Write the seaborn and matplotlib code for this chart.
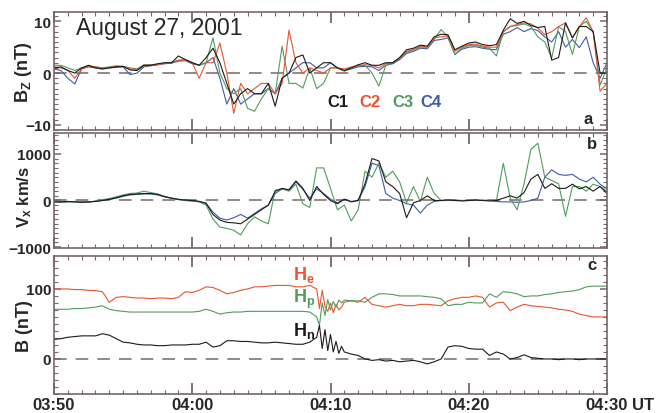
import numpy as np
import pandas as pd
import matplotlib
matplotlib.use('Agg')
import matplotlib.pyplot as plt
from matplotlib.ticker import MultipleLocator
import seaborn as sns

# ---------- Data (minutes after 03:50 UT) ----------
t_ab = np.arange(0, 40.01, 0.5)

bz_c1 = [1.0, 1.2, 0.5, 0.0, 1.0, 1.5, 1.0, 0.8, 1.0, 1.2, 1.3, 0.6, 0.5, 1.5, 1.5, 1.8, 2.0, 2.0, 3.3, 2.6,
         2.0, 1.5, 3.0, 4.8, 2.0, -2.0, -6.0, -4.0, -3.0, -4.0, -4.0, -2.0, -6.4, -1.0, 0.0, 3.0, 3.5, 0.0, 1.0, 2.0,
         2.0, 1.0, 0.5, 1.0, 1.6, 2.0, 1.5, 1.5, 2.0, 2.0, 3.0, 4.5, 4.8, 5.4, 5.2, 7.0, 7.5, 7.4, 4.5, 5.2,
         5.8, 6.0, 5.5, 5.3, 5.5, 8.3, 10.5, 9.6, 10.0, 9.2, 8.8, 9.0, 2.5, 3.0, 9.7, 6.8, 9.0, 9.0, 8.0, 0.0,
         0.0]
bz_c2 = [1.2, 1.0, 0.5, -1.0, 0.8, 1.3, 1.2, 1.0, 1.1, 1.3, 1.2, 0.8, 0.7, 1.3, 1.6, 1.6, 1.9, 2.1, 2.4, 2.5,
         2.0, -1.0, 2.0, 2.0, 5.8, 0.0, -7.8, -2.0, -4.0, -3.0, -2.0, -2.0, -4.0, -2.0, 8.3, 2.0, 0.0, 1.0, 0.5, 0.0,
         1.0, 1.0, 0.8, 1.2, 1.4, 1.6, 1.5, 1.0, 1.8, 2.0, 2.8, 4.2, 4.5, 5.2, 5.0, 6.8, 7.0, 7.2, 4.2, 5.0,
         5.5, 5.6, 5.2, 5.0, 5.0, 8.0, 9.0, 9.4, 9.7, 9.5, 8.7, 7.4, 8.0, 9.0, 9.7, 6.8, 9.0, 10.7, 8.0, -3.5,
         -2.0]
bz_c3 = [1.5, 1.5, 1.0, 0.5, 1.0, 1.4, 1.2, 1.0, 1.2, 1.4, 1.3, 1.0, 0.8, 1.6, 1.6, 1.7, 1.9, 2.0, 2.5, 2.6,
         2.0, 1.5, 2.0, 6.8, 0.0, -3.0, -4.0, -3.0, -6.8, -7.4, -5.0, -3.0, -4.0, 5.2, -2.0, -2.0, -2.9, 1.0, -3.0, -2.0,
         1.0, 1.0, 0.4, 1.0, 1.5, 1.5, 0.0, -2.5, 1.5, 2.0, 2.9, 4.0, 4.5, 5.0, 5.0, 6.5, 8.4, 7.0, 3.6, 4.8,
         5.3, 5.4, 5.0, 4.8, 3.3, 8.0, 9.0, 9.2, 9.5, 9.0, 7.0, 6.0, 2.9, 9.0, 8.0, 3.6, 9.0, 10.0, 8.0, -2.3,
         1.0]
bz_c4 = [0.8, 0.5, -1.0, -2.1, 0.8, 1.2, 1.0, 0.8, 1.0, 1.1, 1.2, -0.3, 0.0, 1.2, 1.4, 1.6, 1.8, 1.9, 2.3, 2.4,
         1.8, 1.5, 2.0, 3.0, -1.0, -6.0, -3.0, -6.0, -5.0, -4.0, -4.0, -3.0, -4.0, -1.0, 0.0, 1.0, 2.0, 2.0, 1.0, 1.0,
         2.0, 1.0, 0.4, 0.8, 1.2, 1.3, 1.2, 0.5, 1.5, 1.8, 2.6, 3.8, 4.2, 4.8, 4.7, 6.3, 6.5, 6.8, 3.6, 4.6,
         5.0, 5.1, 4.8, 4.6, 4.5, 7.5, 8.0, 8.8, 8.0, 8.6, 8.2, 7.0, 6.0, 8.0, 5.0, 6.5, 4.9, 7.0, 2.0, -1.0,
         2.0]

vx_c1 = [-30, -30, -20, -30, -40, -30, -20, 0, 26, 60, 100, 130, 140, 150, 150, 130, 80, 50, 25, 10,
         0, -20, -60, -300, -420, -470, -480, -500, -400, -300, -200, -100, 200, 260, 230, 420, 260, 0, 300, 130,
         0, -70, 30, -30, 0, 360, 900, 850, 400, 300, 150, -370, -50, 0, 100, 0, 0, 10, 0, -10,
         0, 10, 0, -10, 0, 50, 100, 50, 170, 460, 560, 260, 360, 260, 260, 350, 250, 300, 200, 300,
         150]
vx_c3 = [-20, -40, -30, -20, -30, -40, -10, 20, 40, 80, 120, 150, 160, 200, 170, 140, 90, 50, 20, 0,
         -10, -30, -100, -400, -570, -600, -640, -740, -500, -350, -440, -500, 220, 250, 200, 350, -70, -150, 700, 700,
         260, -200, -100, -440, -200, 630, 500, 800, 500, 630, 400, -50, 300, -20, 500, 150, 0, 0, 10, 0,
         0, 0, 10, 0, 0, 800, 50, -200, 360, 1100, 1230, 500, 430, 360, -340, 300, 300, 200, 350, 300,
         200]
vx_c4 = [-30, -30, -30, -30, -30, -30, -20, 0, 20, 50, 90, 120, 130, 140, 140, 120, 80, 50, 20, 0,
         -10, -20, -60, -250, -380, -420, -370, -300, -380, -280, -180, -100, 150, 250, 220, 400, 240, 50, 250, 150,
         30, -50, 20, -20, 0, 300, 800, 750, 150, 50, 0, -70, -100, -270, -100, -20, 0, 0, 0, 0,
         0, 0, 0, 0, -20, -30, -30, -40, -30, 0, 50, 500, 660, 560, 540, 560, 460, 400, 500, 350,
         250]

t_c = np.r_[np.arange(0, 19, 0.5),
            [19.0, 19.2, 19.4, 19.6, 19.8, 20.0, 20.2, 20.4, 20.6, 20.8],
            np.arange(21, 40.01, 0.5)]

h_e = [100, 100, 100, 99, 99, 98, 97.6, 96, 81, 88, 89, 88, 87, 87, 86, 87, 87, 86, 88, 96,
       95, 98, 103, 102, 98, 93, 95, 98, 100, 103, 103, 104, 105, 105, 105, 103, 103, 105,
       100, 72, 98, 75, 68, 80, 66, 78, 70, 74,
       81, 83, 81, 88, 78, 76, 74, 76, 78, 76, 76, 78, 78, 77, 76, 83, 86, 88, 88, 90,
       88, 74, 80, 81, 69, 74, 78, 76, 75, 74, 73, 71, 70, 68, 64, 62, 60, 60, 60]
h_p = [71, 71, 71, 72, 72, 73, 74, 76, 71, 69, 68, 67, 67, 67, 67, 67, 67, 67, 67, 67,
       67, 68, 71, 68, 64, 66, 67, 67, 68, 68, 68, 68, 68, 68, 68, 68, 68, 67,
       60, 48, 80, 62, 85, 70, 82, 74, 84, 80,
       84, 83, 83, 81, 88, 93, 93, 92, 90, 90, 90, 90, 89, 88, 86, 76, 78, 78, 81, 80,
       80, 93, 88, 96, 95, 93, 89, 90, 90, 92, 93, 95, 96, 97, 99, 103, 104, 104, 104]
h_n = [28, 29, 31, 32, 33, 33, 33, 36, 34, 29, 24, 23, 21, 20, 20, 19, 19, 20, 20, 20,
       21, 21, 24, 17, 19, 26, 26, 25, 25, 24, 23, 23, 24, 23, 22, 21, 21, 24,
       31, 48, 15, 42, 12, 35, 10, 25, 8, 18,
       10, 7, 5, 0, -2, -1, -3, -2, -4, -3, -2, -4, -7, -4, 0, 17, 19, 18, 15, 14,
       14, 5, 10, 7, 0, 2, 6, 2, 1, 0, 0, -1, 0, 0, -1, 0, 0, 0, 0]

sc_colors = {'C1': '#1c1a1a', 'C2': '#e8552e', 'C3': '#4f9d5c', 'C4': '#3d5ba6'}
h_colors = {'He': '#e8552e', 'Hp': '#4f9d5c', 'Hn': '#1c1a1a'}
time_labels = ['03:50', '04:00', '04:10', '04:20', '04:30']

# ---------- Style ----------
sns.set_theme(style='ticks')
plt.rcParams['font.family'] = ['Liberation Sans', 'DejaVu Sans']
plt.rcParams['font.weight'] = 'bold'
plt.rcParams['mathtext.fontset'] = 'custom'
plt.rcParams['mathtext.rm'] = 'Liberation Sans:bold'
plt.rcParams['mathtext.bf'] = 'Liberation Sans:bold'
plt.rcParams['mathtext.it'] = 'Liberation Sans:bold'
frame = '#75676a'
zero_col = '#8e7f7a'

fig = plt.figure(figsize=(6.66, 4.14), dpi=100)
ax_a = fig.add_axes([0.0811, 0.6836, 0.8303, 0.2850])
ax_b = fig.add_axes([0.0811, 0.3986, 0.8303, 0.2778])
ax_c = fig.add_axes([0.0811, 0.0459, 0.8303, 0.3333])


def draw(ax, t, series, order, palette):
    df = pd.DataFrame({'t': t, **series}).melt('t', var_name='sc', value_name='v')
    sns.lineplot(data=df, x='t', y='v', hue='sc', hue_order=order, palette=palette,
                 lw=0.8, legend=False, estimator=None, ax=ax)


draw(ax_a, t_ab, {'C1': bz_c1, 'C2': bz_c2, 'C3': bz_c3, 'C4': bz_c4},
     ['C4', 'C3', 'C2', 'C1'], sc_colors)
draw(ax_b, t_ab, {'C1': vx_c1, 'C3': vx_c3, 'C4': vx_c4},
     ['C4', 'C3', 'C1'], sc_colors)
draw(ax_c, t_c, {'He': h_e, 'Hp': h_p, 'Hn': h_n},
     ['He', 'Hp', 'Hn'], h_colors)

for ax in (ax_a, ax_b, ax_c):
    for s in ax.spines.values():
        s.set_color(frame)
        s.set_linewidth(1.2)
    ax.axhline(0, color=zero_col, lw=1.3, dashes=(7, 5), zorder=0)
    ax.set_xlim(0, 40)
    ax.set_xticks([0, 10, 20, 30, 40])
    ax.xaxis.set_minor_locator(MultipleLocator(1))
    ax.tick_params(which='both', direction='in', top=True, right=True, color=frame,
                   labelsize=11, pad=2)
    ax.tick_params(axis='x', which='major', length=8, width=1.3)
    ax.tick_params(axis='y', which='major', length=5, width=1.1)
    ax.tick_params(which='minor', length=3, width=0.8)
    ax.set_xlabel('')
    ax.set_ylabel('')

ax_a.set_ylim(-11, 11.8)
ax_a.set_yticks([-10, 0, 10])
ax_a.yaxis.set_minor_locator(MultipleLocator(1))
ax_a.set_ylabel(r'$\mathregular{B_Z}$ (nT)', fontsize=13, fontweight='bold')
ax_a.yaxis.set_label_coords(-0.036, 0.5)

ax_b.set_ylim(-1020, 1450)
ax_b.set_yticks([-1000, 0, 1000])
ax_b.yaxis.set_minor_locator(MultipleLocator(100))
ax_b.set_ylabel(r'$\mathregular{V_x}$ km/s', fontsize=12, fontweight='bold')
ax_b.yaxis.set_label_coords(-0.036, 0.45)

ax_c.set_ylim(-50, 147)
ax_c.set_yticks([0, 100])
ax_c.yaxis.set_minor_locator(MultipleLocator(10))
ax_c.set_ylabel('B (nT)', fontsize=13, fontweight='bold')
ax_c.yaxis.set_label_coords(-0.038, 0.5)

for ax in (ax_a, ax_b):
    ax.tick_params(labelbottom=False)
ax_c.set_xticklabels(time_labels, fontsize=12)
ax_c.annotate('UT', xy=(1, 0), xycoords='axes fraction', xytext=(18, -2),
              textcoords='offset points', ha='left', va='top', fontsize=12)

# ---------- Annotations ----------
ax_a.text(1.6, 8.8, 'August 27, 2001', fontsize=16.5, fontweight='normal', va='center', ha='left')
for name, xpos in zip(['C1', 'C2', 'C3', 'C4'], [19.75, 22.1, 24.45, 26.5]):
    ax_a.text(xpos, -5.4, name, color=sc_colors[name], fontsize=12, va='center', ha='left')
ax_a.text(0.975, 0.10, 'a', transform=ax_a.transAxes, fontsize=12, ha='right', va='center')
ax_b.text(0.982, 0.91, 'b', transform=ax_b.transAxes, fontsize=12, ha='right', va='center')
ax_c.text(0.982, 0.935, 'c', transform=ax_c.transAxes, fontsize=12, ha='right', va='center')

ax_c.text(17.3, 121, r'$\mathregular{H_e}$', color=h_colors['He'], fontsize=13, va='center')
ax_c.text(17.3, 87, r'$\mathregular{H_p}$', color=h_colors['Hp'], fontsize=13, va='center')
ax_c.text(17.3, 42, r'$\mathregular{H_n}$', color=h_colors['Hn'], fontsize=13, va='center')

plt.savefig('out.png', dpi=100)
